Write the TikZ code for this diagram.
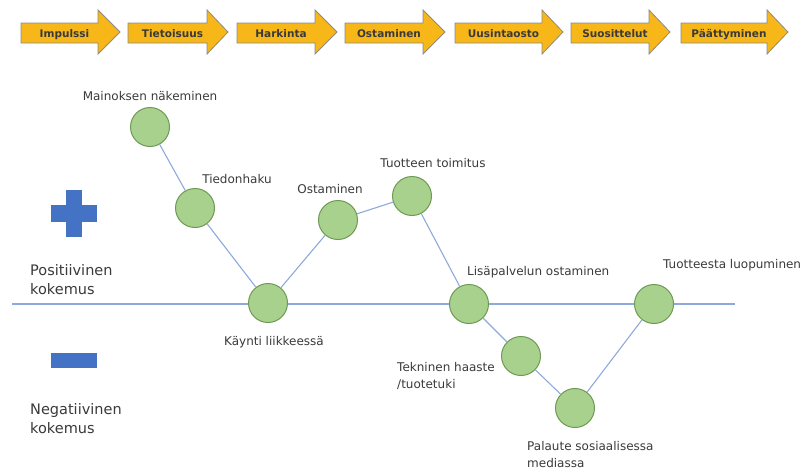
\documentclass[tikz,border=0pt]{standalone}
\usepackage{fontspec}
\setmainfont{DejaVu Sans}
\definecolor{stagegold}{HTML}{F7B718}
\definecolor{stageedge}{HTML}{8E8A80}
\definecolor{touchgreen}{HTML}{A9D18E}
\definecolor{touchedge}{HTML}{6E9A55}
\definecolor{linkblue}{HTML}{8EA9DB}
\definecolor{signblue}{HTML}{4472C4}
\definecolor{labelgray}{HTML}{3A3A3A}

% one phase of the customer journey: name, left x, head start x, tip x, text
\newcommand\stagearrow[5]{%
  \draw[stage] (#2,23) -- (#3,23) -- (#3,10) -- (#4,32) -- (#3,54) -- (#3,43) -- (#2,43) -- cycle;
  \node[stagetext] (#1) at ({(#2+#3)/2+5},37) {#5};}

\begin{document}
\begin{tikzpicture}[x=1pt,y=-1pt,
  stage/.style={fill=stagegold, draw=stageedge, line width=0.8pt, line join=miter},
  stagetext/.style={font=\bfseries\fontsize{10.5}{12}\selectfont, text=labelgray, inner sep=0, anchor=base},
  touch/.style={circle, fill=touchgreen, draw=touchedge, line width=1pt, minimum size=39pt, inner sep=0},
  link/.style={draw=linkblue, line width=1.1pt},
  lbl/.style={font=\fontsize{12}{17.5}\selectfont, text=labelgray, inner sep=0, align=left},
  sidelbl/.style={font=\fontsize{14.5}{19}\selectfont, text=labelgray, inner sep=0, align=left},
  sign/.style={fill=signblue, draw=none}]
\useasboundingbox (0,0) rectangle (805,471);

% phases along the top
\stagearrow{s1}{21}{98}{120}{Impulssi}
\stagearrow{s2}{128}{207}{228}{Tietoisuus}
\stagearrow{s3}{237}{315}{337}{Harkinta}
\stagearrow{s4}{345}{423}{445}{Ostaminen}
\stagearrow{s5}{455}{542}{563}{Uusintaosto}
\stagearrow{s6}{571}{649}{670}{Suosittelut}
\stagearrow{s7}{681}{767}{788}{Päättyminen}

% neutral experience axis
\coordinate (axL) at (12,304);
\coordinate (axR) at (735,304);
\draw[link] (axL) -- (axR);

% touchpoints
\node[touch] (mainos) at (150,127) {};
\node[touch] (tieto) at (195,208) {};
\node[touch] (kaynti) at (268,303) {};
\node[touch] (osto) at (338,220) {};
\node[touch] (toimitus) at (412,196) {};
\node[touch] (lisa) at (469,304) {};
\node[touch] (tekn) at (521,356) {};
\node[touch] (palaute) at (575,408) {};
\node[touch] (luopu) at (654,304) {};

% journey connectors
\draw[link] (mainos) -- (tieto);
\draw[link] (tieto) -- (kaynti);
\draw[link] (kaynti) -- (osto);
\draw[link] (osto) -- (toimitus);
\draw[link] (toimitus) -- (lisa);
\draw[link] (lisa) -- (tekn);
\draw[link] (tekn) -- (palaute);
\draw[link] (palaute) -- (luopu);

% touchpoint labels
\node[lbl] (lmainos) at (150,96) {Mainoksen näkeminen};
\node[lbl] (ltieto) at (237,179) {Tiedonhaku};
\node[lbl] (losto) at (330,189) {Ostaminen};
\node[lbl] (ltoimitus) at (433,163) {Tuotteen toimitus};
\node[lbl] (lkaynti) at (274,342) {Käynti liikkeessä};
\node[lbl, anchor=west] (llisa) at (467,272) {Lisäpalvelun ostaminen};
\node[lbl, anchor=west] (lluopu) at (663,265) {Tuotteesta luopuminen};
\node[lbl, anchor=west] (ltekn) at (397,376) {Tekninen haaste\\/tuotetuki};
\node[lbl, anchor=west, font=\fontsize{12}{17}\selectfont] (lpalaute) at (527,455) {Palaute sosiaalisessa\\mediassa};

% experience scale
\fill[sign] (51,205) rectangle (97,222);
\fill[sign] (66,190) rectangle (82,237);
\fill[sign] (51,353) rectangle (97,368);
\node[sidelbl, anchor=west] (pos) at (30,280) {Positiivinen\\kokemus};
\node[sidelbl, anchor=west] (neg) at (30,419) {Negatiivinen\\kokemus};
\end{tikzpicture}
\end{document}
